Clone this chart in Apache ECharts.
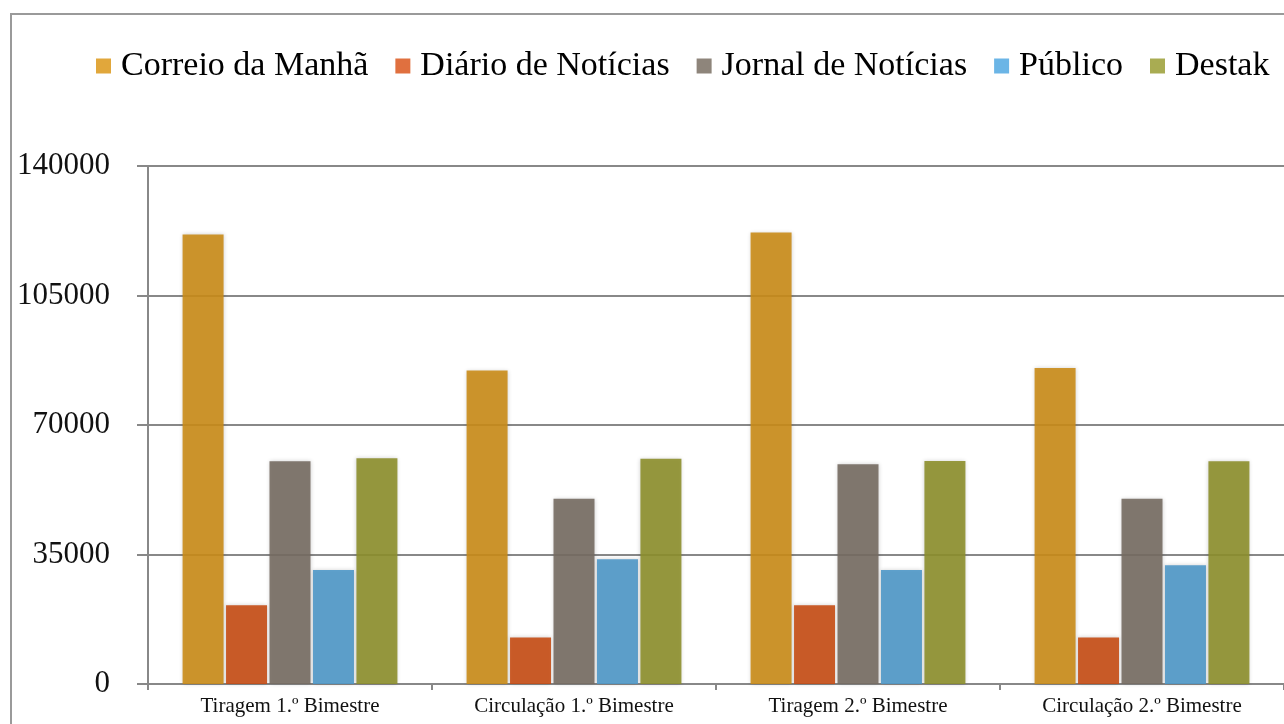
<!DOCTYPE html>
<html lang="pt">
<head>
	<meta charset="UTF-8">
	<title>Tiragem e Circulação</title>
	<script src="https://cdn.jsdelivr.net/npm/echarts@6/dist/echarts.min.js"></script>
	<style>
		html, body { margin: 0; padding: 0; background: #fff; }
		#chart { width: 1284px; height: 724px; }
	</style>
</head>
<body>
	<div id="chart"></div>

	<script>
		// categorias e jornais
		var categorias = ['Tiragem 1.º Bimestre', 'Circulação 1.º Bimestre', 'Tiragem 2.º Bimestre', 'Circulação 2.º Bimestre'];
		var jornais = ['Correio da Manhã', 'Diário de Notícias', 'Jornal de Notícias', 'Público', 'Destak'];

		// valores
		var correioDaManha = [121500, 84700, 122000, 85400];
		var diarioDeNoticias = [21300, 12600, 21300, 12600];
		var jornalDeNoticias = [60200, 50100, 59400, 50100];
		var publico = [30800, 33700, 30800, 32100];
		var destak = [61000, 60900, 60300, 60200];

		var eixoY = { min: 0, max: 140000, interval: 35000 };

		var coresBarra = ['#ca8c18', '#c64c14', '#756c62', '#4f98c8', '#8d8f2c'];
		var coresLegenda = ['#e1a73b', '#e0703f', '#8e857b', '#6bb5e6', '#a9ac52'];
		var valores = [correioDaManha, diarioDeNoticias, jornalDeNoticias, publico, destak];

		var chart = echarts.init(document.getElementById('chart'));

		var series = jornais.map(function (nome, i) {
			return {
				name: nome,
				type: 'bar',
				barWidth: 41,
				barGap: '6%',
				data: valores[i],
				itemStyle: {
					color: coresBarra[i],
					opacity: 0.9,
					shadowBlur: 4,
					shadowColor: 'rgba(0,0,0,0.2)'
				}
			};
		});

		var option = {
			backgroundColor: '#fff',
			animation: false,
			textStyle: { fontFamily: 'Liberation Serif' },
			graphic: [{
				type: 'rect',
				shape: { x: 11, y: 14, width: 1400, height: 800 },
				style: { fill: 'none', stroke: '#9a9a9a', lineWidth: 2 },
				silent: true
			}],
			legend: {
				left: 91,
				top: 44,
				icon: 'rect',
				itemWidth: 15,
				itemHeight: 15,
				itemGap: 27,
				textStyle: { fontSize: 34, color: '#000', fontFamily: 'Liberation Serif', padding: [0, 0, 0, 5] },
				data: jornais.map(function (nome, i) {
					return { name: nome, itemStyle: { color: coresLegenda[i], opacity: 1 } };
				})
			},
			grid: { left: 148, top: 166, bottom: 40, width: 1138 },
			xAxis: {
				type: 'category',
				data: categorias,
				axisLine: { lineStyle: { color: '#888', width: 2 } },
				axisTick: { show: true, length: 6, lineStyle: { color: '#888', width: 2 } },
				axisLabel: { fontSize: 21, color: '#111', margin: 12, fontFamily: 'Liberation Serif' }
			},
			yAxis: {
				type: 'value',
				min: eixoY.min,
				max: eixoY.max,
				interval: eixoY.interval,
				axisLine: { show: true, lineStyle: { color: '#888', width: 2 } },
				axisTick: { show: true, length: 11, lineStyle: { color: '#888', width: 2 } },
				axisLabel: {
					fontSize: 31, color: '#111', margin: 38, fontFamily: 'Liberation Serif',
					formatter: function (v) { return String(v); }
				},
				splitLine: { lineStyle: { color: '#888', width: 2 } }
			},
			series: series
		};

		chart.setOption(option);
	</script>
</body>
</html>
